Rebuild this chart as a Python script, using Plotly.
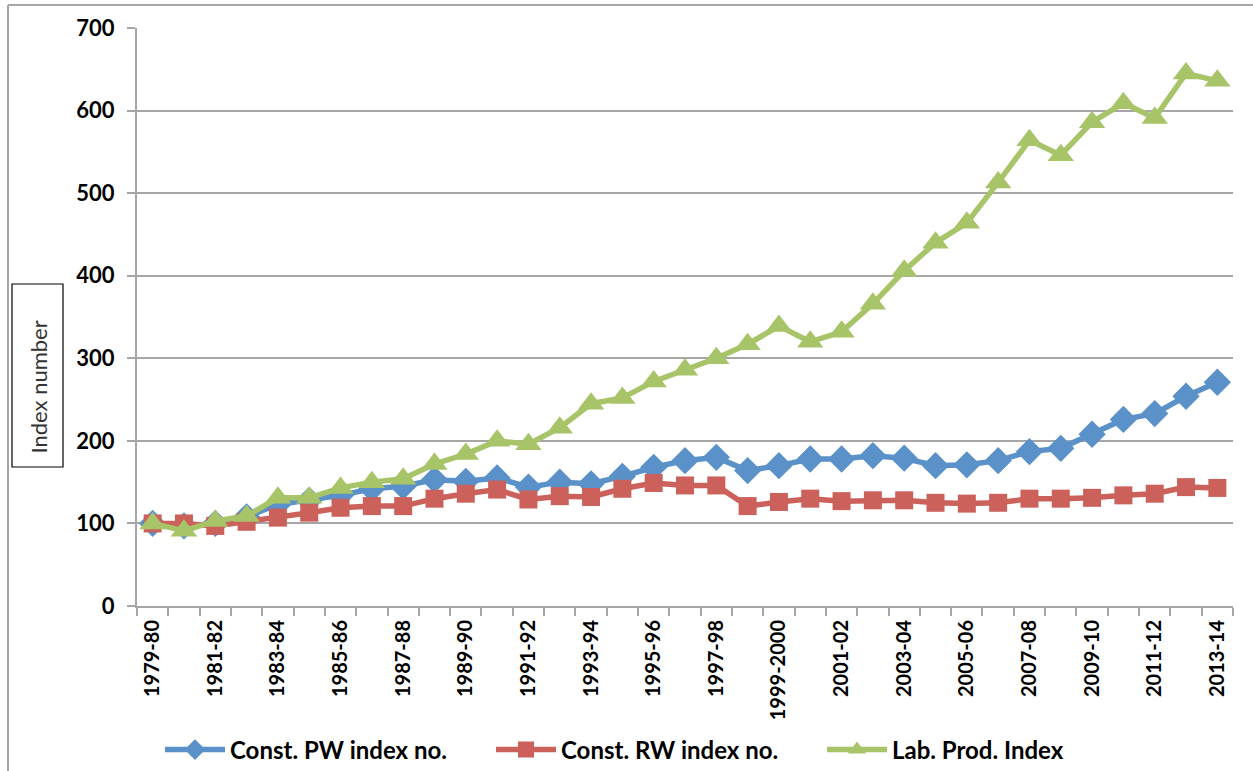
import plotly.graph_objects as go

categories = ["1979-80", "1980-81", "1981-82", "1982-83", "1983-84", "1984-85", "1985-86",
              "1986-87", "1987-88", "1988-89", "1989-90", "1990-91", "1991-92", "1992-93",
              "1993-94", "1994-95", "1995-96", "1996-97", "1997-98", "1998-99", "1999-2000",
              "2000-01", "2001-02", "2002-03", "2003-04", "2004-05", "2005-06", "2006-07",
              "2007-08", "2008-09", "2009-10", "2010-11", "2011-12", "2012-13", "2013-14"]

pw_index = [100, 97, 100, 108, 123, 128, 134, 142, 145, 153, 151, 155, 144, 150, 148, 157, 168,
            176, 180, 164, 170, 178, 178, 182, 179, 170, 171, 176, 187, 191, 208, 226, 233, 254, 271]

rw_index = [100, 100, 97, 102, 107, 113, 119, 121, 121, 130, 136, 141, 129, 133, 132, 142, 149,
            146, 146, 121, 126, 130, 127, 128, 128, 125, 124, 125, 130, 130, 131, 134, 136, 144, 143]

lab_prod = [100, 91, 103, 109, 131, 131, 143, 150, 154, 172, 184, 200, 196, 216, 245, 252, 272,
            286, 300, 317, 339, 320, 332, 366, 406, 440, 464, 513, 564, 546, 586, 609, 591, 645, 636]

series_names = ["Const. PW index no.", "Const. RW index no.", "Lab. Prod. Index"]
y_ticks = [0, 100, 200, 300, 400, 500, 600, 700]

x_idx = list(range(len(categories)))
label_idx = x_idx[::2]
label_text = [categories[i] for i in label_idx]
boundaries = [i - 0.5 for i in range(len(categories) + 1)]

W, H = 1253, 771
L, R, T, B = 137, 20, 28, 165
pw_ = W - L - R
ph_ = H - T - B


def px_x(v):
    return (v - L) / pw_


def px_y(v):
    return (H - B - v) / ph_


fig = go.Figure()
fig.add_trace(go.Scatter(x=x_idx, y=pw_index, name=series_names[0], mode="lines+markers",
                         line=dict(color="#5A91C8", width=5.5),
                         marker=dict(symbol="diamond", size=21, color="#5A91C8")))
fig.add_trace(go.Scatter(x=x_idx, y=rw_index, name=series_names[1], mode="lines+markers",
                         line=dict(color="#CC615B", width=5.5),
                         marker=dict(symbol="square", size=18, color="#CC615B")))
fig.add_trace(go.Scatter(x=x_idx, y=lab_prod, name=series_names[2], mode="lines+markers",
                         line=dict(color="#A7C468", width=5.5),
                         marker=dict(symbol="triangle-up", size=23, color="#A7C468")))

grid = "#A6A6A6"
fig.update_layout(
    width=W, height=H,
    margin=dict(l=L, r=R, t=T, b=B, autoexpand=False),
    paper_bgcolor="white", plot_bgcolor="white",
    font=dict(family="Lato, Carlito, Calibri, sans-serif", color="black"),
    showlegend=True,
    legend=dict(orientation="h", x=160 / W, y=(H - 750) / H, xref="container", yref="container",
                xanchor="left", yanchor="middle",
                font=dict(size=24, family="Lato", color="black", weight="bold"),
                itemwidth=60, entrywidth=256, entrywidthmode="pixels",
                bgcolor="rgba(0,0,0,0)"),
    xaxis=dict(range=[-0.5, len(categories) - 0.5], tickmode="array", tickvals=label_idx,
               ticktext=label_text, tickangle=-90, ticks="", showgrid=False, zeroline=False,
               showline=True, linecolor=grid, linewidth=2,
               tickfont=dict(size=20, family="Lato", color="black", weight="bold"),
               ticklabelstandoff=4,
               minor=dict(tickmode="array", tickvals=boundaries, ticks="outside", ticklen=8,
                          tickcolor=grid, tickwidth=2, showgrid=False)),
    yaxis=dict(range=[0, 700], tickmode="array", tickvals=y_ticks, showgrid=True,
               gridcolor=grid, gridwidth=2, zeroline=False, showline=True, linecolor=grid,
               linewidth=2, ticks="outside", ticklen=8, tickcolor=grid, tickwidth=2,
               tickfont=dict(size=22, family="Lato", color="black", weight="bold"),
               ticklabelstandoff=8),
    shapes=[
        dict(type="line", xref="paper", yref="paper", x0=px_x(8), x1=px_x(8), y0=px_y(5), y1=px_y(771),
             line=dict(color=grid, width=2)),
        dict(type="line", xref="paper", yref="paper", x0=px_x(8), x1=px_x(1253), y0=px_y(5), y1=px_y(5),
             line=dict(color=grid, width=2)),
        dict(type="rect", xref="paper", yref="paper", x0=px_x(12), x1=px_x(63), y0=px_y(467), y1=px_y(284),
             line=dict(color="black", width=1.2), fillcolor="white"),
    ],
    annotations=[
        dict(text="Index number", xref="paper", yref="paper", x=px_x(37.5), y=px_y(387),
             xanchor="center", yanchor="middle",
             showarrow=False, textangle=-90, font=dict(size=22, family="Lato", color="#333333")),
    ],
)

fig.write_html("out.html", config={"displayModeBar": False},
               post_script="document.body.style.margin='0';document.body.style.padding='0';")
